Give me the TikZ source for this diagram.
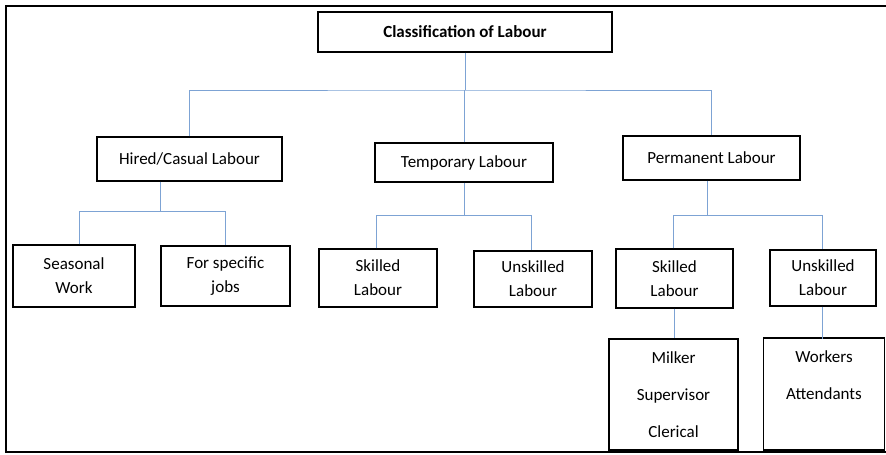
\documentclass[tikz,border=0pt]{standalone}
\usepackage{fontspec}
\setmainfont{Carlito}
\begin{document}
\begin{tikzpicture}[x=1pt,y=-1pt,
  box/.style={draw=black, line width=1.4pt, rectangle, inner sep=0pt, align=center,
    font=\fontsize{17}{24}\selectfont},
  tallbox/.style={box, font=\fontsize{17}{37}\selectfont},
  conn/.style={draw={rgb,255:red,125;green,163;blue,212}, line width=0.9pt},
  frame/.style={draw=black, line width=2.6pt}]
\useasboundingbox (0,0) rectangle (886,455);
% outer frame (open on the right)
\draw[frame] (886,6) -- (6,6) -- (6,452) -- (886,452);
% nodes
\node[box, minimum width=294pt, minimum height=40pt, font=\fontsize{17}{24}\selectfont\bfseries] (top) at (465,32) {Classification of Labour};
\node[box, minimum width=185pt, minimum height=44pt] (hired) at (189.5,159) {Hired/Casual Labour};
\node[box, minimum width=178pt, minimum height=39pt] (temp) at (464,162.5) {Temporary Labour};
\node[box, minimum width=177pt, minimum height=44pt] (perm) at (711.5,158) {Permanent Labour};
\node[box, minimum width=122pt, minimum height=62pt] (seasonal) at (74,276) {Seasonal\\Work};
\node[box, minimum width=129pt, minimum height=60pt] (specific) at (225.5,276) {For specific\\jobs};
\node[box, minimum width=118pt, minimum height=58pt] (tskilled) at (378,278) {Skilled\\Labour};
\node[box, minimum width=118pt, minimum height=56pt] (tunskilled) at (533,279) {Unskilled\\Labour};
\node[box, minimum width=117pt, minimum height=59pt] (pskilled) at (674.5,278.5) {Skilled\\Labour};
\node[box, minimum width=106pt, minimum height=56pt] (punskilled) at (823,278) {Unskilled\\Labour};
\node[tallbox, minimum width=129pt, minimum height=111pt] (milker) at (673.5,394.5) {Milker\\Supervisor\\Clerical};
\node[tallbox, minimum width=121pt, minimum height=112pt] (workers) at (824,394) {Workers\\Attendants\\\phantom{Clerical}};
% connectors
\coordinate (bus1) at (463,90);
\draw[conn] (top.south) -- (top.south |- bus1);
\draw[conn] (hired.north) |- (bus1) -| (perm.north);
\draw[conn] (temp.north) -- (temp.north |- bus1);
\draw[conn] ([xshift=-29.5pt]hired.south) -- ++(0,30) coordinate (bus2);
\draw[conn] ([xshift=5pt]seasonal.north) |- (bus2) -| (specific.north);
\draw[conn] (temp.south) -- ++(0,33) coordinate (bus3);
\draw[conn] ([xshift=-2pt]tskilled.north) |- (bus3) -| ([xshift=-2pt]tunskilled.north);
\draw[conn] ([xshift=-4.5pt]perm.south) -- ++(0,35) coordinate (bus4);
\draw[conn] ([xshift=-1.5pt]pskilled.north) |- (bus4) -| ([xshift=-1pt]punskilled.north);
\draw[conn] (pskilled.south) -- (pskilled.south |- milker.north);
\draw[conn] ([xshift=-1pt]punskilled.south) -- ++(0,32);
\end{tikzpicture}
\end{document}
